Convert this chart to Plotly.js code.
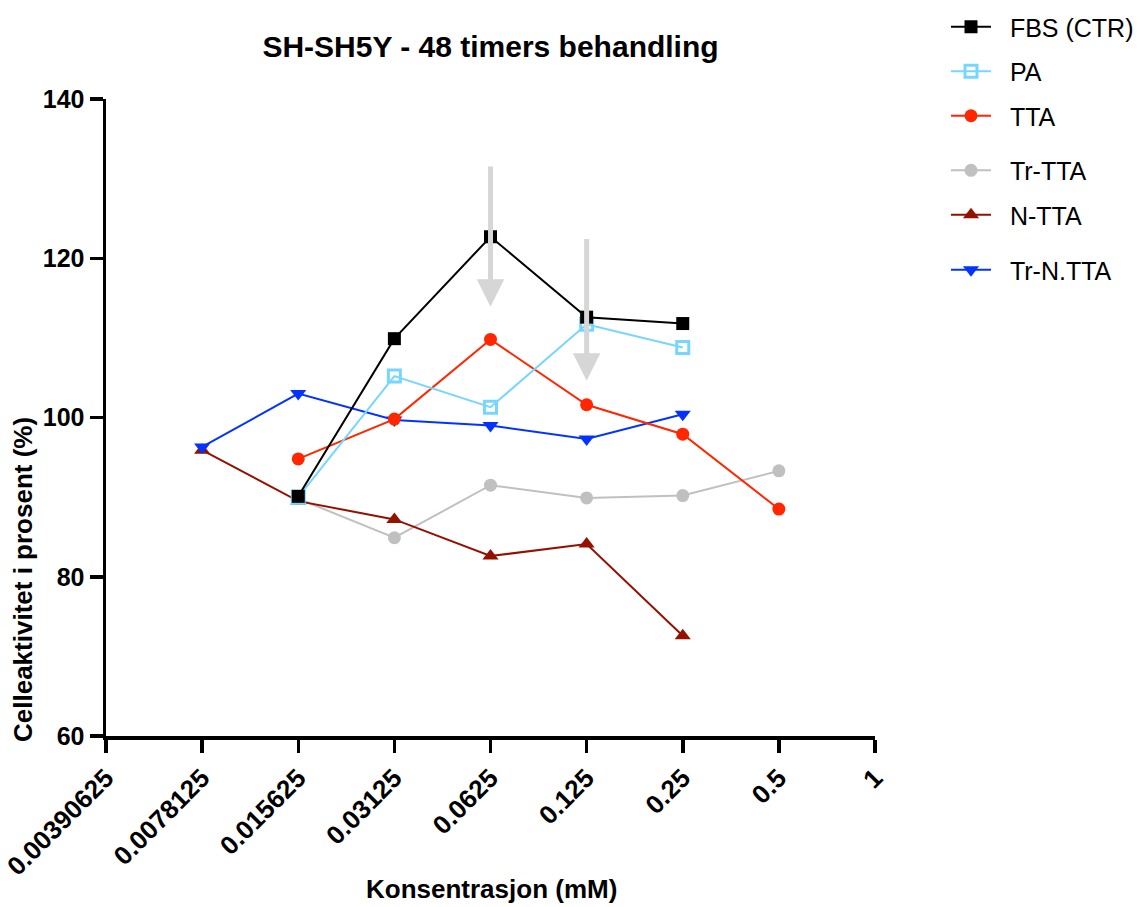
<!DOCTYPE html>
<html>
<head>
<meta charset="utf-8">
<script src="https://cdn.plot.ly/plotly-3.0.1.min.js"></script>
<style>html,body{margin:0;padding:0;background:#fff;} #chart{width:1141px;height:907px;}</style>
</head>
<body>
<div id="chart"></div>
<script>
// Concentrations (mM)
const tickVals = [0.00390625, 0.0078125, 0.015625, 0.03125, 0.0625, 0.125, 0.25, 0.5, 1];
const tickText = ["0.00390625", "0.0078125", "0.015625", "0.03125", "0.0625", "0.125", "0.25", "0.5", "1"];

// Series
const fbsX = [0.015625, 0.03125, 0.0625, 0.125, 0.25];
const fbsY = [90.1, 109.9, 122.7, 112.6, 111.8];
const paX = [0.015625, 0.03125, 0.0625, 0.125, 0.25];
const paY = [90.0, 105.2, 101.3, 111.7, 108.8];
const ttaX = [0.015625, 0.03125, 0.0625, 0.125, 0.25, 0.5];
const ttaY = [94.8, 99.8, 109.8, 101.6, 97.9, 88.5];
const trTtaX = [0.015625, 0.03125, 0.0625, 0.125, 0.25, 0.5];
const trTtaY = [89.8, 84.9, 91.5, 89.9, 90.2, 93.3];
const nTtaX = [0.0078125, 0.015625, 0.03125, 0.0625, 0.125, 0.25];
const nTtaY = [95.9, 89.5, 87.2, 82.6, 84.1, 72.6];
const trNTtaX = [0.0078125, 0.015625, 0.03125, 0.0625, 0.125, 0.25];
const trNTtaY = [96.3, 103.0, 99.7, 99.0, 97.3, 100.4];

// Highlight arrows: [x, tailY, tipY]
const arrows = [[0.0625, 131.7, 113.9], [0.125, 122.6, 104.6]];

const FONT = "Liberation Sans, Arial, Helvetica, sans-serif";
const NB = '\u00a0\u00a0';

function tr(name, x, y, color, symbol, legend, extra) {
  return {
    type: 'scatter', mode: 'lines+markers', name: NB + name, x: x, y: y,
    line: {color: color, width: 2},
    marker: Object.assign({color: color, symbol: symbol, size: 13}, extra || {}),
    legend: legend, legendgroup: name
  };
}

const data = [
  tr('Tr-TTA', trTtaX, trTtaY, '#c0c0c0', 'circle', 'legend2'),
  tr('N-TTA', nTtaX, nTtaY, '#941100', 'triangle-up', 'legend2', {size: 14}),
  tr('Tr-N.TTA', trNTtaX, trNTtaY, '#0433ff', 'triangle-down', 'legend3', {size: 14}),
  tr('TTA', ttaX, ttaY, '#ff2600', 'circle', 'legend'),
  tr('PA', paX, paY, '#76d6ff', 'square-open', 'legend', {size: 12, line: {color: '#76d6ff', width: 3}}),
  tr('FBS (CTR)', fbsX, fbsY, '#000000', 'square', 'legend', {size: 13})
];
data[5].legendrank = 1; data[4].legendrank = 2; data[3].legendrank = 3;
data[0].legendrank = 4; data[1].legendrank = 5; data[2].legendrank = 6;

const annotations = arrows.map(a => ({
  x: Math.log10(a[0]), y: a[2], ax: Math.log10(a[0]), ay: a[1],
  xref: 'x', yref: 'y', axref: 'x', ayref: 'y',
  showarrow: true, arrowhead: 2, arrowsize: 1.1, arrowwidth: 5, arrowcolor: '#d6d6d6', text: ''
}));

annotations.push({
  text: 'Celleaktivitet i prosent (%)', textangle: -90,
  xref: 'paper', yref: 'paper', x: (23 - 106) / 769, y: (736 - 580) / 637,
  xanchor: 'center', yanchor: 'middle', showarrow: false,
  font: {family: FONT, size: 26, color: '#000', weight: 'bold'}
});
annotations.push({
  text: 'Konsentrasjon (mM)',
  xref: 'paper', yref: 'paper', x: (491 - 106) / 769, y: (736 - 889) / 637,
  xanchor: 'center', yanchor: 'middle', showarrow: false,
  font: {family: FONT, size: 26, color: '#000', weight: 'bold'}
});

const legendBase = {
  x: (946 - 106) / 769, xanchor: 'left', yanchor: 'top',
  font: {family: FONT, size: 25, color: '#000'},
  bgcolor: 'rgba(0,0,0,0)', borderwidth: 0, tracegroupgap: 9, itemwidth: 40
};

const layout = {
  width: 1141, height: 907,
  margin: {l: 106, r: 266, t: 99, b: 171, autoexpand: false},
  paper_bgcolor: '#fff', plot_bgcolor: '#fff',
  font: {family: FONT, color: '#000'},
  title: {
    text: 'SH-SH5Y - 48 timers behandling',
    font: {family: FONT, size: 30, color: '#000', weight: 'bold'},
    xref: 'paper', x: 0.5, xanchor: 'center',
    yref: 'container', y: 1 - 46 / 907, yanchor: 'middle'
  },
  xaxis: {
    type: 'log', range: [Math.log10(0.00390625), 0],
    tickmode: 'array', tickvals: tickVals, ticktext: tickText, tickangle: -45,
    showgrid: false, zeroline: false, showline: true, linecolor: '#000', linewidth: 3.5,
    ticks: 'outside', ticklen: 13, tickwidth: 3.5, tickcolor: '#000',
    tickfont: {family: FONT, size: 26, color: '#000', weight: 'bold'}
  },
  yaxis: {
    range: [60, 140], tickmode: 'array', tickvals: [60, 80, 100, 120, 140],
    showgrid: false, zeroline: false, showline: true, linecolor: '#000', linewidth: 3.5,
    ticks: 'outside', ticklen: 13, tickwidth: 3.5, tickcolor: '#000',
    tickfont: {family: FONT, size: 25, color: '#000', weight: 'bold'}
  },
  legend: Object.assign({}, legendBase, {y: 732 / 637}),
  legend2: Object.assign({}, legendBase, {y: (736 - 147.6) / 637}),
  legend3: Object.assign({}, legendBase, {y: (736 - 247) / 637}),
  showlegend: true,
  annotations: annotations
};

Plotly.newPlot('chart', data, layout, {displayModeBar: false, staticPlot: true});
</script>
</body>
</html>
